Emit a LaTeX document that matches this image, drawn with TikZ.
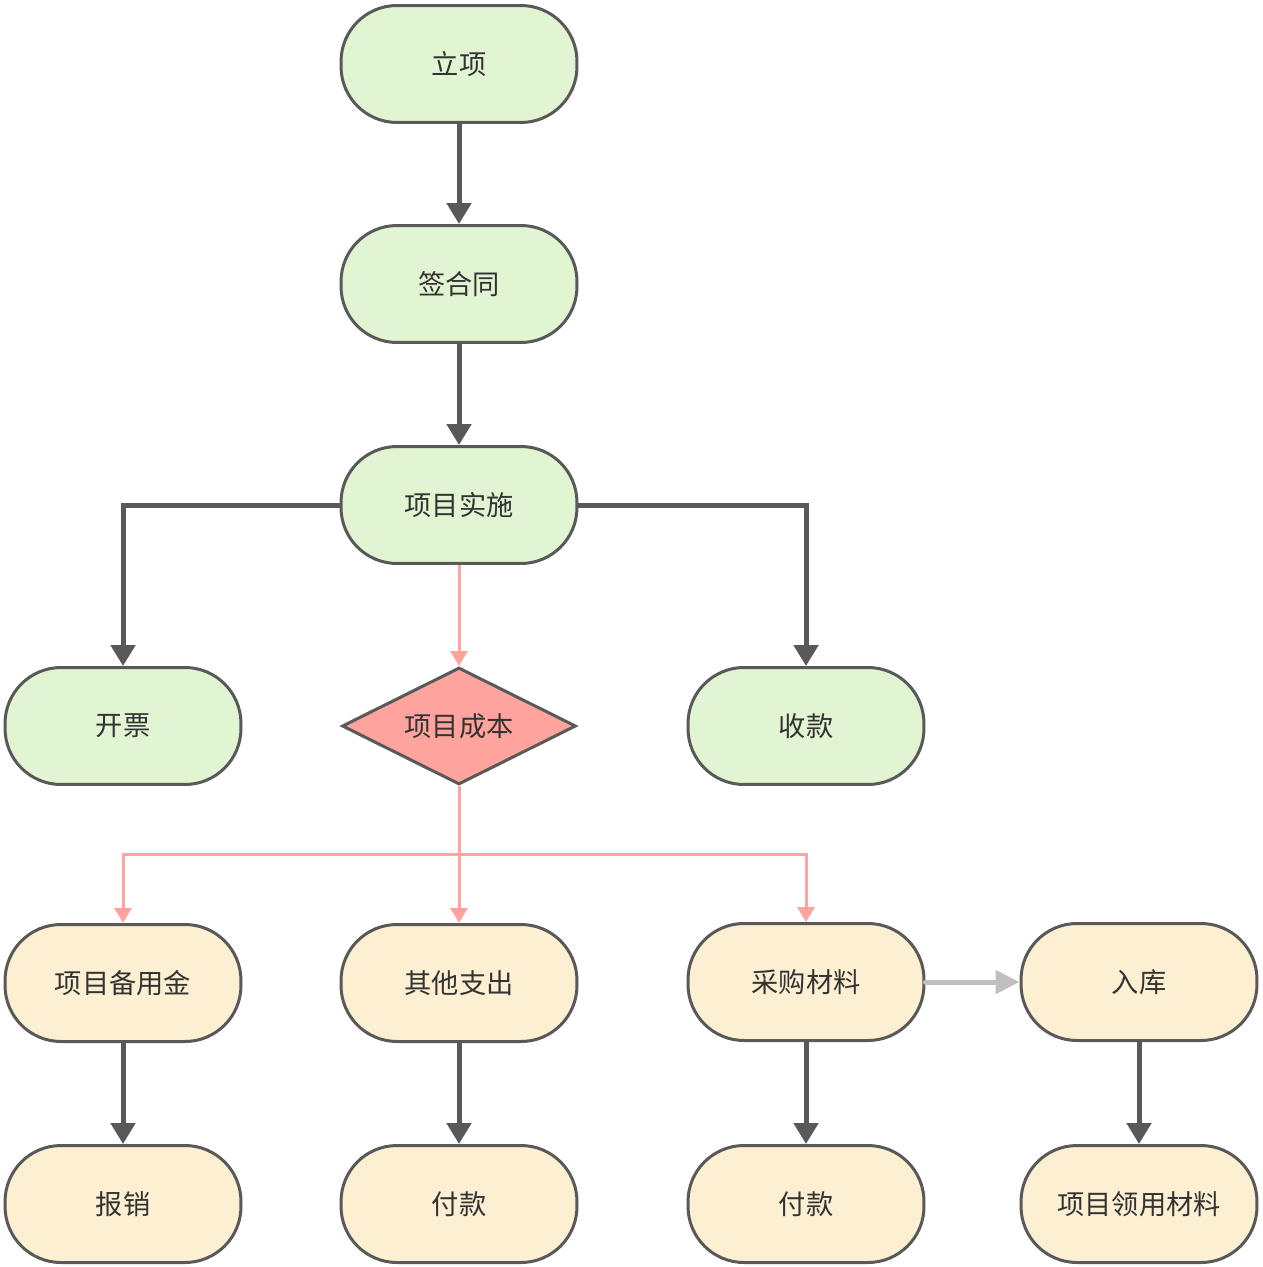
\documentclass[tikz,border=0pt]{standalone}
\usepackage{fontspec}
\newfontfamily\cjk{Noto Sans CJK SC}
\usetikzlibrary{arrows.meta,shapes.geometric}
\definecolor{rimgray}{HTML}{595959}
\definecolor{wordgray}{HTML}{333333}
\definecolor{leafgreen}{HTML}{E2F5D3}
\definecolor{sandcream}{HTML}{FDEFD1}
\definecolor{rosepink}{HTML}{FFA39E}
\definecolor{mistgray}{HTML}{C0C0C0}
\tikzset{
	pill/.style={draw=rimgray, line width=0.06cm, rounded corners=1.12cm, minimum width=4.72cm, minimum height=2.34cm, inner sep=0pt, font=\cjk\fontsize{15.5}{18}\selectfont, text=wordgray},
	greenpill/.style={pill, fill=leafgreen},
	creampill/.style={pill, fill=sandcream},
	costdiamond/.style={diamond, aspect=2, draw=rimgray, line width=0.06cm, fill=rosepink, minimum width=4.68cm, minimum height=2.34cm, inner sep=0pt, font=\cjk\fontsize{15.5}{18}\selectfont, text=wordgray},
	darkarrow/.style={draw=rimgray, line width=0.1cm, -{Triangle[width=0.48cm, length=0.42cm]}},
	pinkarrow/.style={draw=rosepink, line width=0.06cm, -{Triangle[width=0.34cm, length=0.3cm]}},
	grayarrow/.style={draw=mistgray, line width=0.1cm, line cap=round, -{Triangle[width=0.46cm, length=0.48cm]}}
}

\begin{document}
\begin{tikzpicture}[x=0.02cm, y=-0.02cm]
		%%%%% START %%%%%
		\useasboundingbox (0, 0) rectangle (1262, 1267);
		
		\node[greenpill] (lixiang) at (459, 64) {立项};
		\node[greenpill] (hetong) at (459, 284) {签合同};
		\node[greenpill] (shishi) at (459, 505) {项目实施};
		
		\node[greenpill] (kaipiao) at (123, 726) {开票};
		\node[costdiamond] (chengben) at (459, 726) {项目成本};
		\node[greenpill] (shoukuan) at (806, 726) {收款};
		
		\node[creampill] (beiyong) at (123, 983) {项目备用金};
		\node[creampill] (qita) at (459, 983) {其他支出};
		\node[creampill] (caigou) at (806, 982) {采购材料};
		\node[creampill] (ruku) at (1139, 982) {入库};
		
		\node[creampill] (baoxiao) at (123, 1204) {报销};
		\node[creampill] (fukuana) at (459, 1204) {付款};
		\node[creampill] (fukuanb) at (806, 1204) {付款};
		\node[creampill] (lingyong) at (1139, 1204) {项目领用材料};
		
		\draw[darkarrow] (lixiang) -- (hetong);
		\draw[darkarrow] (hetong) -- (shishi);
		\draw[darkarrow] (shishi.west) -| (kaipiao);
		\draw[darkarrow] (shishi.east) -| (shoukuan);
		
		\draw[pinkarrow] (shishi) -- (chengben);
		\coordinate (fencha) at (459, 854);
		\draw[pinkarrow] (chengben.south) -- (fencha) -| (beiyong);
		\draw[pinkarrow] (fencha) -- (qita);
		\draw[pinkarrow] (fencha) -| (caigou);
		
		\draw[grayarrow] (caigou) -- (ruku);
		
		\draw[darkarrow] (beiyong) -- (baoxiao);
		\draw[darkarrow] (qita) -- (fukuana);
		\draw[darkarrow] (caigou) -- (fukuanb);
		\draw[darkarrow] (ruku) -- (lingyong);
		
		%%%%% END %%%%%
	\end{tikzpicture}
\end{document}
